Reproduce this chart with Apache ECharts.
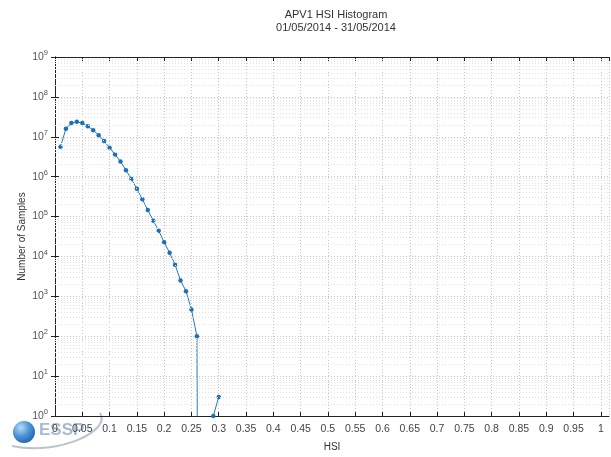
<!DOCTYPE html>
<html>
<head>
<meta charset="utf-8">
<script src="https://cdn.jsdelivr.net/npm/echarts@6/dist/echarts.min.js"></script>
<style>
  html, body { margin: 0; padding: 0; background: #fff; }
  #chart { width: 611px; height: 457px; }
</style>
</head>
<body>
<div id="chart"></div>
<script>
// histogram bins (HSI) and sample counts
const hsiBins = [0.01, 0.02, 0.03, 0.04, 0.05, 0.06, 0.07, 0.08, 0.09, 0.10,
  0.11, 0.12, 0.13, 0.14, 0.15, 0.16, 0.17, 0.18, 0.19, 0.20,
  0.21, 0.22, 0.23, 0.24, 0.25, 0.26, 0.27, 0.28, 0.29, 0.30];
const sampleCounts = [5.6e6, 1.58e7, 2.2e7, 2.37e7, 2.2e7, 1.83e7, 1.46e7, 1.1e7, 7.8e6, 5.3e6,
  3.6e6, 2.4e6, 1.45e6, 8.7e5, 5.0e5, 2.7e5, 1.45e5, 7.9e4, 4.4e4, 2.28e4,
  1.23e4, 6.2e3, 2.5e3, 1.35e3, 470, 100, 0, 0, 1, 3];
const decades = [0, 1, 2, 3, 4, 5, 6, 7, 8, 9];

const chartDom = document.getElementById('chart');
const chart = echarts.init(chartDom);

const font = '"Liberation Sans", Arial, sans-serif';
const gridColor = '#c4c4c4';

// log of zero goes to -infinity: push empty bins far below the axis so the line drops off
const seriesData = hsiBins.map((x, i) => [x, sampleCounts[i] > 0 ? sampleCounts[i] : 1e-30]);

// minor log grid lines (2..9 in each decade)
const minorLines = [];
decades.slice(0, -1).forEach(d => {
  for (let m = 2; m <= 9; m++) minorLines.push({ yAxis: m * Math.pow(10, d) });
});

const supLabel = (v) => '{b|10}{s|' + Math.round(Math.log10(v)) + '}';

const option = {
  animation: false,
  title: {
    text: 'APV1 HSI Histogram\n01/05/2014 - 31/05/2014',
    left: 331,
    textAlign: 'center',
    top: 3,
    textStyle: { fontFamily: font, fontSize: 11, fontWeight: 'normal', color: '#333', lineHeight: 13 }
  },
  grid: { left: 55, top: 57, right: 2, bottom: 39 },
  xAxis: [
    {
      type: 'value',
      min: 0,
      max: 1.015,
      interval: 0.05,
      name: 'HSI',
      nameLocation: 'middle',
      nameGap: 26,
      nameMoveOverlap: false,
      nameTextStyle: { fontFamily: font, fontSize: 10, color: '#333' },
      axisLine: { lineStyle: { color: '#222', width: 1 } },
      axisTick: { inside: true, length: 4, lineStyle: { color: '#222' } },
      axisLabel: {
        fontFamily: font, fontSize: 10.5, color: '#444', margin: 8,
        showMaxLabel: false,
        formatter: (v) => String(Math.round(v * 100) / 100)
      },
      splitLine: { show: true, lineStyle: { color: gridColor, type: [1, 2] } }
    },
    {
      type: 'value',
      position: 'top',
      min: 0,
      max: 1.015,
      interval: 0.05,
      axisLine: { show: true, lineStyle: { color: '#222', width: 1 } },
      axisTick: { show: true, inside: true, length: 4, lineStyle: { color: '#222' } },
      axisLabel: { show: false },
      splitLine: { show: false }
    }
  ],
  yAxis: [
    {
      type: 'log',
      logBase: 10,
      min: 1,
      max: 1e9,
      splitNumber: 9,
      name: 'Number of Samples',
      nameLocation: 'middle',
      nameGap: 28,
      nameMoveOverlap: false,
      nameTextStyle: { fontFamily: font, fontSize: 10, color: '#333' },
      axisLine: { show: true, lineStyle: { color: '#222', width: 1 } },
      axisTick: { show: true, inside: true, length: 4, lineStyle: { color: '#222' } },
      axisLabel: {
        margin: 7,
        formatter: supLabel,
        rich: {
          b: { fontFamily: font, fontSize: 10.5, color: '#555' },
          s: { fontFamily: font, fontSize: 7.5, color: '#555', padding: [0, 0, 8, 0] }
        }
      },
      splitLine: { show: true, lineStyle: { color: gridColor, type: [1, 2] } }
    },
    {
      type: 'log',
      logBase: 10,
      min: 1,
      max: 1e9,
      splitNumber: 9,
      position: 'right',
      axisLine: { show: true, lineStyle: { color: '#222', width: 1 } },
      axisTick: { show: true, inside: true, length: 4, lineStyle: { color: '#222' } },
      axisLabel: { show: false },
      splitLine: { show: false }
    }
  ],
  series: [
    {
      type: 'line',
      data: seriesData,
      xAxisIndex: 0,
      yAxisIndex: 0,
      clip: true,
      symbol: 'circle',
      symbolSize: 4.5,
      showAllSymbol: true,
      lineStyle: { color: '#2c78b0', width: 1 },
      itemStyle: { color: '#1f6fb8' },
      markLine: {
        silent: true,
        symbol: 'none',
        label: { show: false },
        lineStyle: { color: '#e2e2e2', type: [1, 2], width: 1 },
        data: minorLines
      },
      z: 3
    }
  ],
  graphic: [
    {
      type: 'bezierCurve',
      shape: { x1: 12, y1: 446, x2: 100, y2: 413, cpx1: 60, cpy1: 456, cpx2: 112, cpy2: 430 },
      style: { stroke: '#b9c4cf', lineWidth: 2, fill: null }
    },
    {
      type: 'circle',
      shape: { cx: 24, cy: 432, r: 11 },
      style: {
        fill: new echarts.graphic.RadialGradient(0.35, 0.3, 0.8, [
          { offset: 0, color: '#b9dcf7' },
          { offset: 0.5, color: '#4c93d6' },
          { offset: 1, color: '#1c5ea8' }
        ])
      }
    },
    {
      type: 'text',
      left: 39,
      top: 422,
      style: { text: 'ESSP', font: 'bold 17px ' + font, fill: '#97aeca', opacity: 0.85 }
    }
  ]
};

chart.setOption(option);
window.addEventListener('resize', () => chart.resize());
</script>
</body>
</html>
